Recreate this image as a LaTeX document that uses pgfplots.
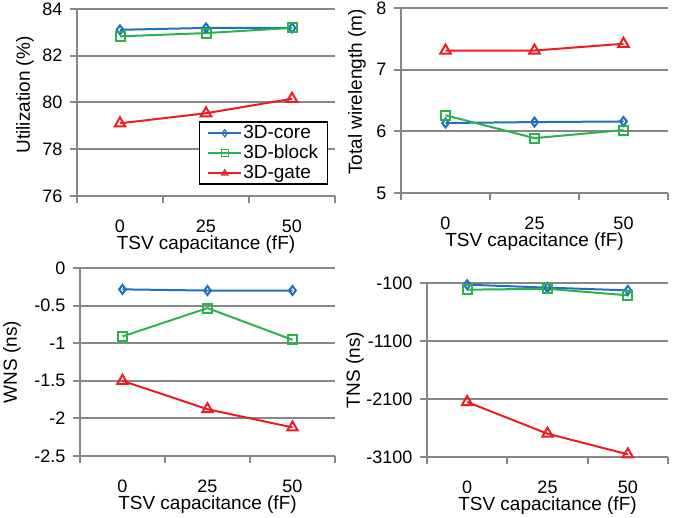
\documentclass[border=0pt]{standalone}
\usepackage{fontspec}
\setmainfont{Liberation Sans}
\usepackage{pgfplots}
\pgfplotsset{compat=1.18}

\definecolor{cblue}{HTML}{1F70C1}
\definecolor{cgreen}{HTML}{2BB24C}
\definecolor{cred}{HTML}{ED1C24}
\definecolor{gridgray}{HTML}{878787}

\pgfplotsset{
  tsv/.style={
    scale only axis, anchor=south west, clip=false,
    xmin=-0.5, xmax=2.5,
    xtick={-0.5,0.5,1.5,2.5}, xticklabels={},
    extra x ticks={0,1,2}, extra x tick labels={0,25,50},
    extra x tick style={major tick length=0pt},
    axis x line*=bottom, axis y line*=left,
    axis line style={draw=gridgray, line width=2bp},
    ymajorgrids, grid style={draw=gridgray, line width=2bp},
    tick align=outside, major tick length=7bp,
    tick style={draw=gridgray, line width=2bp},
    tick label style={font=\fontsize{18bp}{20bp}\selectfont},
    xticklabel style={yshift=-20bp},
    yticklabel style={xshift=-4bp},
    label style={font=\fontsize{19bp}{22bp}\selectfont},
    /pgf/number format/assume math mode=true,
    /pgf/number format/1000 sep={},
    xlabel={TSV capacitance (fF)},
    xlabel style={at={(axis description cs:0.5,0)}, anchor=center, yshift=-49bp},
    every axis plot/.append style={line width=2bp},
  },
  core/.style={cblue, mark=diamond, mark size=4.5bp, mark options={fill=white, solid}},
  block/.style={cgreen, mark=square, mark size=4.5bp, mark options={fill=white, solid}},
  gate/.style={cred, mark=triangle, mark size=6bp, mark options={fill=white, solid}},
}

\begin{document}
\begin{tikzpicture}
\useasboundingbox (0,0) rectangle (681bp,518bp);

% utilization
\begin{axis}[tsv, at={(77bp,322bp)}, width=258bp, height=187bp,
    ymin=76, ymax=84, ytick={76,78,80,82,84},
    ylabel={Utilization (\%)},
    ylabel style={at={(axis description cs:-0.2016,0.54)}, anchor=center},
    legend style={at={(1,0)}, anchor=south east, xshift=-7bp, yshift=11bp,
      draw=black, line width=1.5bp, fill=white,
      font=\fontsize{19bp}{22bp}\selectfont,
      nodes={inner sep=1bp, text height=14bp, text depth=4bp},
      inner xsep=8bp, inner ysep=1bp},
    legend cell align=left,
    legend image code/.code={\draw[mark repeat=2,mark phase=2] plot coordinates {(0bp,0bp) (16.5bp,0bp) (33bp,0bp)};},
    legend image post style={mark size=3.5bp, every mark/.append style={line width=1.2bp}},
  ]
  \addplot[core] coordinates {(0,83.11) (1,83.19) (2,83.19)};
  \addplot[block] coordinates {(0,82.83) (1,82.97) (2,83.19)};
  \addplot[gate] coordinates {(0,79.11) (1,79.54) (2,80.16)};
  \legend{3D-core,3D-block,3D-gate}
\end{axis}

% wirelength
\begin{axis}[tsv, at={(401bp,325bp)}, width=267bp, height=185bp,
    ymin=5, ymax=8, ytick={5,6,7,8},
    ylabel={Total wirelength (m)},
    ylabel style={at={(axis description cs:-0.1648,0.546)}, anchor=center},
  ]
  \addplot[core] coordinates {(0,6.135) (1,6.15) (2,6.16)};
  \addplot[block] coordinates {(0,6.26) (1,5.89) (2,6.02)};
  \addplot[gate] coordinates {(0,7.31) (1,7.31) (2,7.42)};
\end{axis}

% WNS
\begin{axis}[tsv, at={(80bp,62bp)}, width=255bp, height=188bp,
    ymin=-2.5, ymax=0, ytick={-2.5,-2,-1.5,-1,-0.5,0},
    ylabel={WNS (ns)},
    ylabel style={at={(axis description cs:-0.2667,0.5)}, anchor=center},
  ]
  \addplot[core] coordinates {(0,-0.284) (1,-0.30) (2,-0.30)};
  \addplot[block] coordinates {(0,-0.91) (1,-0.533) (2,-0.955)};
  \addplot[gate] coordinates {(0,-1.50) (1,-1.878) (2,-2.12)};
\end{axis}

% TNS
\begin{axis}[tsv, at={(427bp,61bp)}, width=241bp, height=174bp,
    ymin=-3100, ymax=-100, ytick={-3100,-2100,-1100,-100},
    ylabel={TNS (ns)},
    ylabel style={at={(axis description cs:-0.2988,0.5)}, anchor=center},
  ]
  \addplot[core] coordinates {(0,-129) (1,-180) (2,-227)};
  \addplot[block] coordinates {(0,-215) (1,-200) (2,-313)};
  \addplot[gate] coordinates {(0,-2152) (1,-2698) (2,-3054)};
\end{axis}
\end{tikzpicture}
\end{document}
